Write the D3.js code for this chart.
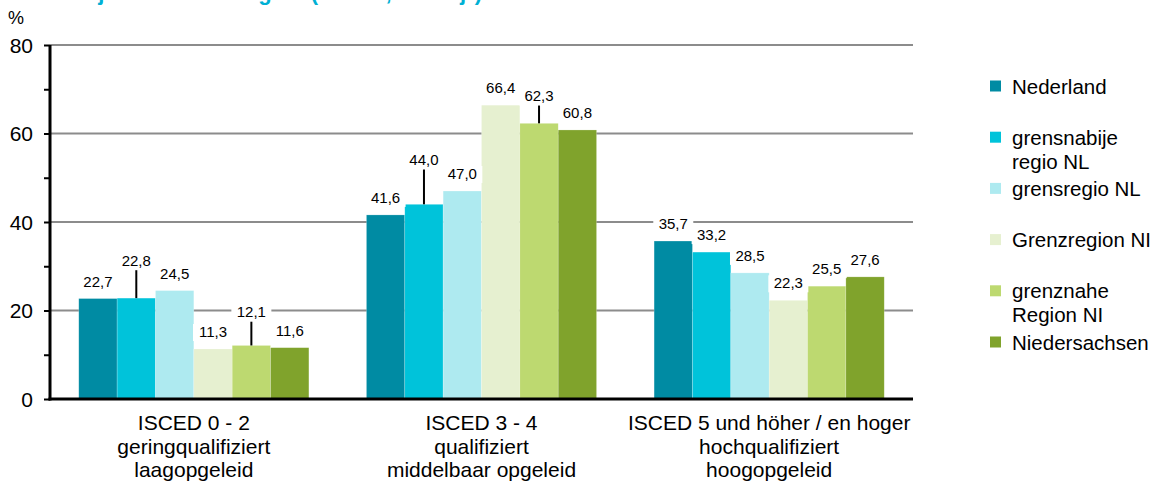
<!DOCTYPE html>
<html>
<head>
<meta charset="utf-8">
<script src="https://cdn.jsdelivr.net/npm/d3@7"></script>
<style>
  body { margin: 0; background: #fff; }
  svg { display: block; font-family: Arial, "Liberation Sans", sans-serif; }
</style>
</head>
<body>
<svg id="canvas" width="1162" height="486"></svg>
<script>
// categories (3 lines each)
let categories = ['isced02', 'isced34', 'isced5']
let categoryLines = [
    ['ISCED 0 - 2', 'geringqualifiziert', 'laagopgeleid'],
    ['ISCED 3 - 4', 'qualifiziert', 'middelbaar opgeleid'],
    ['ISCED 5 und höher / en hoger', 'hochqualifiziert', 'hoogopgeleid']
]

let series = ['Nederland', 'grensnabije regio NL', 'grensregio NL', 'Grenzregion NI', 'grenznahe Region NI', 'Niedersachsen']
let legendLines = [['Nederland'], ['grensnabije', 'regio NL'], ['grensregio NL'], ['Grenzregion NI'], ['grenznahe', 'Region NI'], ['Niedersachsen']]
let colors = ['#008ba3', '#00c3da', '#aeeaf0', '#e6f0d0', '#bdd970', '#80a32c']

// values per category, one per series
let isced02 = [22.7, 22.8, 24.5, 11.3, 12.1, 11.6]
let isced34 = [41.6, 44.0, 47.0, 66.4, 62.3, 60.8]
let isced5 = [35.7, 33.2, 28.5, 22.3, 25.5, 27.6]
let values = [isced02, isced34, isced5]

let yTicks = [0, 20, 40, 60, 80]
let yMinorTicks = [10, 30, 50, 70]

// extra lift (px) of some data labels, drawn with a leader line
let labelLift = [
    [0, 20, 0, 0, 16, 0],
    [0, 27, 0, 0, 10, 0],
    [0, 0, 0, 0, 0, 0]
]

let canvas = d3.select('#canvas')

let plotLeft = 50
let plotRight = 913
let plotTop = 45
let plotBottom = 399

let xScale = d3.scaleBand()
    .domain(categories)
    .range([plotLeft, plotRight])
    .paddingInner(0.2)
    .paddingOuter(0.1)

let xInner = d3.scaleBand()
    .domain(series)
    .range([0, xScale.bandwidth()])

let yScale = d3.scaleLinear()
    .domain([0, 80])
    .range([plotBottom, plotTop])

let fmt = (v) => v.toFixed(1).replace('.', ',')

// title (cut off at the top of the picture)
canvas.append('text')
    .attr('x', 482)
    .attr('y', 0)
    .attr('text-anchor', 'end')
    .attr('font-size', 22)
    .attr('font-weight', 'bold')
    .attr('fill', '#00b0d4')
    .text('Qualifikationsniveau je Kreis und Region (ISCED, 25-64 jr)')

// % unit
canvas.append('text')
    .attr('x', 8)
    .attr('y', 24)
    .attr('font-size', 18)
    .text('%')

// gridlines
canvas.append('g')
    .selectAll('line')
    .data(yTicks.filter(t => t > 0))
    .enter()
    .append('line')
    .attr('x1', plotLeft)
    .attr('x2', plotRight)
    .attr('y1', d => yScale(d))
    .attr('y2', d => yScale(d))
    .attr('stroke', '#8c8c8c')
    .attr('stroke-width', 2)

// bars
let groups = canvas.append('g')
    .selectAll('g')
    .data(categories)
    .enter()
    .append('g')
    .attr('transform', d => 'translate(' + xScale(d) + ',0)')

groups.selectAll('rect')
    .data((d, i) => values[i].map((v, j) => ({ v: v, s: series[j], j: j })))
    .enter()
    .append('rect')
    .attr('x', d => xInner(d.s))
    .attr('y', d => yScale(d.v))
    .attr('width', xInner.bandwidth())
    .attr('height', d => yScale(0) - yScale(d.v))
    .attr('fill', d => colors[d.j])
    .attr('stroke', '#ffffff')
    .attr('stroke-opacity', 0.35)
    .attr('stroke-width', 0.6)

// data labels
let labels = groups.selectAll('g.lbl')
    .data((d, i) => values[i].map((v, j) => ({ v: v, s: series[j], j: j, lift: labelLift[i][j] })))
    .enter()
    .append('g')
    .attr('class', 'lbl')

labels.filter(d => d.lift > 0)
    .append('line')
    .attr('x1', d => xInner(d.s) + xInner.bandwidth() / 2)
    .attr('x2', d => xInner(d.s) + xInner.bandwidth() / 2)
    .attr('y1', d => yScale(d.v) - 8 - d.lift)
    .attr('y2', d => yScale(d.v))
    .attr('stroke', '#000')
    .attr('stroke-width', 2)

labels.append('rect')
    .attr('x', d => xInner(d.s) + xInner.bandwidth() / 2 - 20)
    .attr('y', d => yScale(d.v) - 12 - d.lift - 13)
    .attr('width', 40)
    .attr('height', 17)
    .attr('fill', '#fff')

labels.append('text')
    .attr('x', d => xInner(d.s) + xInner.bandwidth() / 2)
    .attr('y', d => yScale(d.v) - 12 - d.lift)
    .attr('text-anchor', 'middle')
    .attr('font-size', 15)
    .attr('fill', '#000')
    .text(d => fmt(d.v))

// y axis
let yAxis = canvas.append('g')
    .attr('transform', 'translate(' + plotLeft + ',0)')
    .call(d3.axisLeft(yScale).tickValues(yTicks.concat(yMinorTicks)).tickSize(6).tickFormat(''))
yAxis.select('.domain').attr('stroke', '#000').attr('stroke-width', 3).attr('d', 'M0,' + plotTop + 'V' + (plotBottom + 1.5))
yAxis.selectAll('.tick line').attr('stroke', '#000').attr('stroke-width', 2)

canvas.append('g')
    .selectAll('text')
    .data(yTicks)
    .enter()
    .append('text')
    .attr('x', 33)
    .attr('y', d => yScale(d) + 7.5)
    .attr('text-anchor', 'end')
    .attr('font-size', 21)
    .text(d => d)

// x axis
let xAxis = canvas.append('g')
    .attr('transform', 'translate(0,' + plotBottom + ')')
    .call(d3.axisBottom(xScale).tickSize(0).tickFormat(''))
xAxis.select('.domain').attr('stroke', '#000').attr('stroke-width', 3).attr('d', 'M' + (plotLeft - 1.5) + ',0H' + plotRight)

let catText = canvas.append('g')
    .selectAll('text')
    .data(categories)
    .enter()
    .append('text')
    .attr('text-anchor', 'middle')
    .attr('font-size', 21)
    .attr('fill', '#000')

catText.selectAll('tspan')
    .data((d, i) => categoryLines[i].map(t => ({ t: t, c: d })))
    .enter()
    .append('tspan')
    .attr('x', d => xScale(d.c) + xScale.bandwidth() / 2)
    .attr('y', (d, k) => 430 + k * 23.5)
    .text(d => d.t)

// legend
let legendY = d3.scaleLinear().domain([0, series.length - 1]).range([86, 342])

let legend = canvas.append('g')
    .selectAll('g')
    .data(series)
    .enter()
    .append('g')
    .attr('transform', (d, i) => 'translate(990,' + legendY(i) + ')')

legend.append('rect')
    .attr('x', 0)
    .attr('y', -5.5)
    .attr('width', 11)
    .attr('height', 11)
    .attr('fill', (d, i) => colors[i])

legend.append('text')
    .attr('font-size', 20.5)
    .attr('fill', '#000')
    .selectAll('tspan')
    .data((d, i) => legendLines[i])
    .enter()
    .append('tspan')
    .attr('x', 22)
    .attr('y', (d, k) => 7.5 + k * 24)
    .text(d => d)
</script>
</body>
</html>
